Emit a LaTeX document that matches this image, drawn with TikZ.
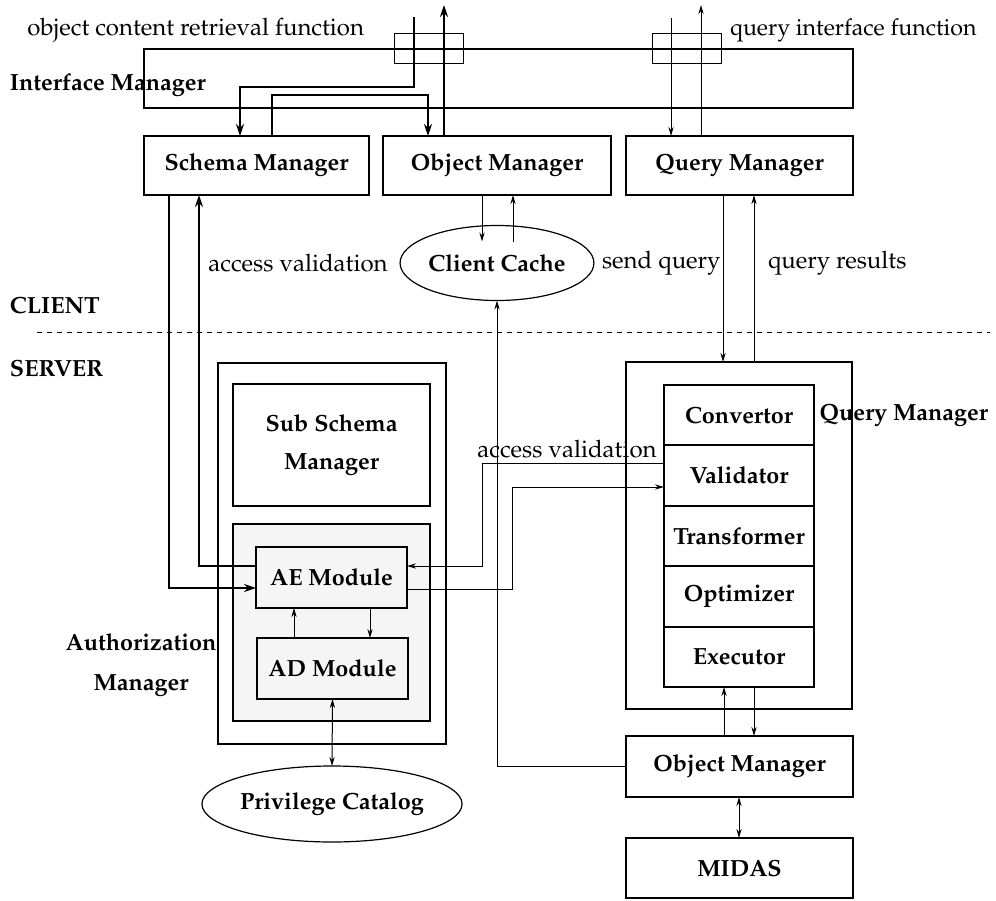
\documentclass[tikz,border=0pt]{standalone}
\usepackage[T1]{fontenc}
\usepackage{mathpazo}
\usetikzlibrary{arrows.meta,calc,fit,shapes.geometric}
\begin{document}
\begin{tikzpicture}[x=0.5pt,y=-0.5pt,
  every node/.style={inner sep=0pt,outer sep=0pt},
  lbl/.style={font=\fontsize{12}{15}\selectfont},
  blbl/.style={font=\fontsize{11.7}{14}\selectfont\bfseries},
  box/.style={draw,line width=0.6pt},
  graybox/.style={box,fill=gray!8},
  oval/.style={draw,ellipse,line width=0.6pt,blbl},
  thin/.style={line width=0.5pt},
  thkarr/.style={line width=1.4pt,-{Stealth[length=6pt,width=4pt]}},
  >={Stealth[length=4.5pt,width=2.6pt]}
]
\useasboundingbox (0,0) rectangle (996,900);

% ---------- client side ----------
\node[box,fit={(144,49) (853,108)}] (im) {};
\node[box,thin,fit={(394,33) (463,63)}] (port1) {};
\node[box,thin,fit={(652,33) (721,63)}] (port2) {};

\node[box,fit={(144,136) (369,195)},label={[blbl]center:Schema Manager}] (sm) {};
\node[box,fit={(383,136) (611,195)},label={[blbl]center:Object Manager}] (om) {};
\node[box,fit={(626,136) (853,195)},label={[blbl]center:Query Manager}] (qm) {};

\node[oval,minimum width=90pt,minimum height=37.5pt] (cc) at (497,263) {Client Cache};

% labels
\node[lbl,anchor=east] (lorf) at (364,30) {object content retrieval function};
\node[lbl,anchor=west,font=\fontsize{11.6}{15}\selectfont] (lqif) at (730,30) {query interface function};
\node[blbl,anchor=west] (lim) at (10,85) {Interface Manager};
\node[lbl] (lav1) at (298,263) {access validation};
\node[lbl,anchor=west] (lsq) at (602,263) {send query};
\node[lbl,anchor=west] (lqr) at (768,263) {query results};
\node[blbl,anchor=west] (lclient) at (10,305) {CLIENT};
\node[blbl,anchor=west] (lserver) at (10,368) {SERVER};

% client/server boundary
\coordinate (dl) at (37,332);
\coordinate (dr) at (990,332);
\draw[thin,dash pattern=on 2.5pt off 2.5pt] (dl) -- (dr);

% ---------- server side ----------
\node[box,fit={(218,363) (446,744)}] (am) {};
\node[box,fit={(233,384) (430,506)}] (ssm) {};
\node[blbl,align=center,font=\fontsize{11.7}{19}\selectfont\bfseries] (ssmt) at (ssm.center) {Sub Schema\\Manager};
\node[graybox,fit={(233,524) (430,721)}] (aeg) {};
\node[graybox,fit={(256,547) (407,608)},label={[blbl]center:AE Module}] (ae) {};
\node[graybox,fit={(257,638) (408,699)},label={[blbl]center:AD Module}] (ad) {};
\node[oval,minimum width=106pt,minimum height=38pt] (pc) at (332,804) {Privilege Catalog};
\node[blbl,align=center,font=\fontsize{11.7}{20}\selectfont\bfseries] (lam) at (141,665) {Authorization\\Manager};

\node[box,fit={(626,362) (852,709)}] (sqm) {};
\node[box,fit={(664,385) (814,445)},label={[blbl]center:Convertor}] (conv) {};
\node[box,fit={(664,445) (814,506)},label={[blbl]center:Validator}] (val) {};
\node[box,fit={(664,506) (814,566)},label={[blbl]center:Transformer}] (trans) {};
\node[box,fit={(664,566) (814,627)},label={[blbl]center:Optimizer}] (opt) {};
\node[box,fit={(664,627) (814,687)},label={[blbl]center:Executor}] (exec) {};
\node[blbl,anchor=east] (lsqm) at (988,415) {Query Manager};
\node[lbl] (lav2) at (567,449) {access validation};

\node[box,fit={(626,736) (853,797)},label={[blbl]center:Object Manager}] (som) {};
\node[box,fit={(626,838) (853,898)},label={[blbl]center:MIDAS}] (midas) {};

% ---------- connectors ----------
% thick object content retrieval paths
\coordinate (t1) at (414,17);
\coordinate (t3) at (444,5);
\draw[thkarr] (t1) -- ++(0,70) -| ($(sm.north west)+(96,0)$);
\draw[thkarr] ($(sm.north west)+(128,0)$) -- ++(0,-41) -| ($(om.north west)+(45,0)$);
\draw[thkarr] ($(om.north west)+(61,0)$) -- (t3);

% query interface thin arrows
\coordinate (q1) at (671,18);
\coordinate (q2) at (701,5);
\draw[thin,->] (q1) -- ($(qm.north west)+(45,0)$);
\draw[thin,->] ($(qm.north west)+(75,0)$) -- (q2);

% schema manager <-> AE module
\draw[thkarr] ($(sm.south west)+(25,0)$) |- ($(ae.west)+(0,10.5)$);
\draw[thkarr] ($(ae.west)+(0,-11.5)$) -| ($(sm.south west)+(55,0)$);

% object manager <-> client cache
\draw[thin,->] ($(om.south west)+(99,0)$) -- ($(cc.north)+(-15,16)$);
\draw[thin,->] ($(cc.north)+(16,16)$) -- ($(om.south west)+(130,0)$);

% server object manager -> client cache
\draw[thin,->] (som.west) -| (cc.south);

% query manager client <-> server
\draw[thin,->] ($(qm.south west)+(97,0)$) -- ($(sqm.north west)+(97,0)$);
\draw[thin,->] ($(sqm.north west)+(128,0)$) -- ($(qm.south west)+(128,0)$);

% access validation (server)
\draw[thin,->] ($(val.north west)+(0,18)$) -- ++(-182,0) |- ($(ae.east)+(0,-11.5)$);
\draw[thin,->] ($(ae.east)+(0,11.5)$) -- ++(105,0) |- ($(val.north west)+(0,42)$);

% AE <-> AD
\draw[thin,->] ($(ad.north west)+(37,0)$) -- ++(0,-30);
\draw[thin,->] ($(ae.south west)+(114,0)$) -- ++(0,30);

% AD <-> privilege catalog
\draw[thin,<->] (ad.south) -- (pc.north);

% executor <-> server object manager
\draw[thin,->] ($(som.north west)+(98,0)$) -- ++(0,-49);
\draw[thin,->] ($(exec.south west)+(90,0)$) -- ++(0,49);

% object manager <-> MIDAS
\draw[thin,<->] ($(som.south west)+(113,0)$) -- ++(0,41);
\end{tikzpicture}
\end{document}
